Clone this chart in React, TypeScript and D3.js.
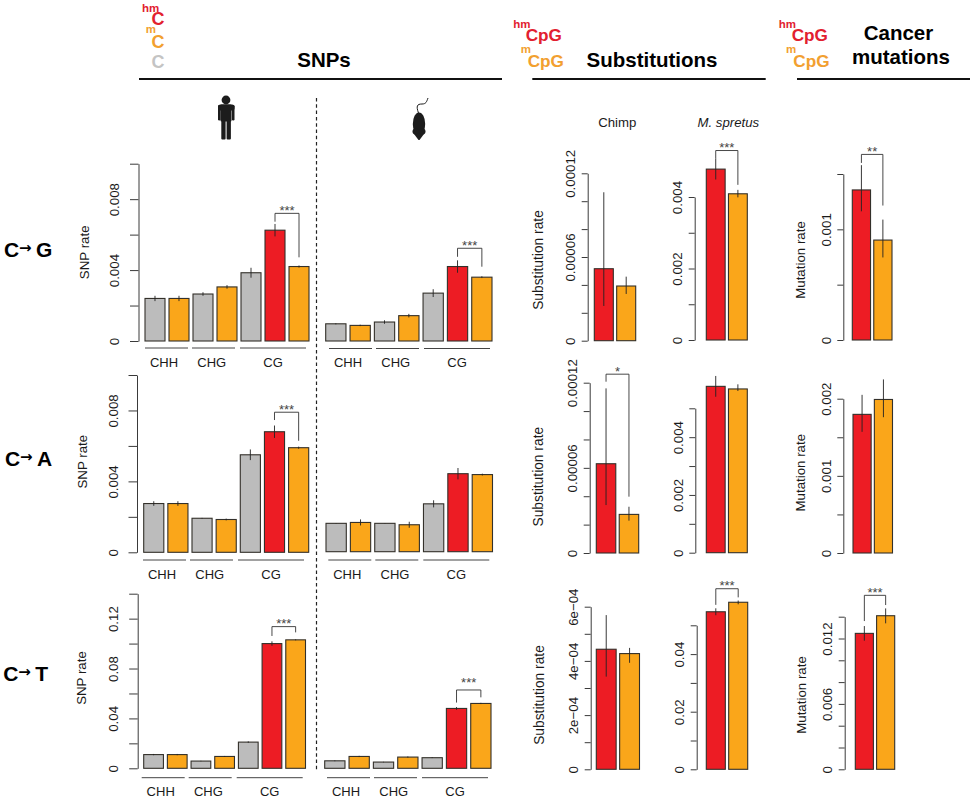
import React, { useEffect, useRef } from "react";
import * as d3 from "d3";

const RED = "#ed1c24";
const ORANGE = "#faa61a";
const GREY = "#bcbcbc";
const DARK = "#3a3a3a";
const FONT = "'Liberation Sans', Arial, sans-serif";

const snpFill = [GREY, ORANGE, GREY, ORANGE, GREY, RED, ORANGE];
const pairFill = [RED, ORANGE];
const groupNames = ["CHH", "CHG", "CG"];

// SNP rates, order: CHH C, CHH mC, CHG C, CHG mC, CG C, CG hmC, CG mC
const humanCG = [0.0024, 0.0024, 0.00265, 0.00305, 0.00385, 0.00625, 0.0042];
const humanCGerr = [0.00015, 0.00015, 0.0001, 0.0001, 0.00028, 0.00035, 0.00006];
const mouseCG = [0.00097, 0.00088, 0.00107, 0.00143, 0.0027, 0.0042, 0.0036];
const mouseCGerr = [0.00003, 0.00004, 0.0001, 0.0001, 0.00022, 0.00035, 0.00005];
const humanCA = [0.00275, 0.00275, 0.00192, 0.00185, 0.0055, 0.0068, 0.0059];
const humanCAerr = [0.00013, 0.00013, 0.00002, 0.00005, 0.0003, 0.00035, 0.00006];
const mouseCA = [0.0016, 0.00165, 0.0016, 0.00152, 0.0027, 0.0044, 0.00435];
const mouseCAerr = [0.00001, 0.00017, 0.00001, 0.00017, 0.0002, 0.00032, 0.00005];
const humanCT = [0.011, 0.011, 0.0058, 0.0095, 0.021, 0.1, 0.103];
const humanCTerr = [0.0005, 0.0005, 0.0002, 0.0004, 0.0006, 0.0018, 0.0004];
const mouseCT = [0.006, 0.0095, 0.005, 0.009, 0.0085, 0.048, 0.052];
const mouseCTerr = [0.0003, 0.0005, 0.0002, 0.0005, 0.0003, 0.0011, 0.0005];

// hmCpG, mCpG with lower and upper error bar ends
const chimpCG = [0.0000516, 0.0000392];
const chimpCGlo = [0.0000249, 0.0000335];
const chimpCGhi = [0.0001064, 0.0000459];
const spretusCG = [0.00478, 0.00409];
const spretusCGlo = [0.00449, 0.00399];
const spretusCGhi = [0.00508, 0.0042];
const cancerCG = [0.001356, 0.000903];
const cancerCGlo = [0.001163, 0.000746];
const cancerCGhi = [0.00158, 0.001088];
const chimpCA = [0.0000629, 0.0000272];
const chimpCAlo = [0.0000338, 0.0000228];
const chimpCAhi = [0.000116, 0.0000326];
const spretusCA = [0.00576, 0.00567];
const spretusCAlo = [0.0054, 0.0056];
const spretusCAhi = [0.00612, 0.00583];
const cancerCA = [0.001797, 0.00199];
const cancerCAlo = [0.00157, 0.00176];
const cancerCAhi = [0.00205, 0.00225];
const chimpCT = [0.000443, 0.000427];
const chimpCTlo = [0.000342, 0.000393];
const chimpCThi = [0.000569, 0.000448];
const spretusCT = [0.0547, 0.058];
const spretusCTlo = [0.0535, 0.0573];
const spretusCThi = [0.0559, 0.0586];
const cancerCT = [0.01247, 0.01409];
const cancerCTlo = [0.0118, 0.01339];
const cancerCThi = [0.01314, 0.01476];

// tick values and labels
const snpLowTicks = [0, 0.002, 0.004, 0.006, 0.008, 0.01];
const snpLowLabels = ["0", "", "0.004", "", "0.008", ""];
const snpHighTicks = [0, 0.02, 0.04, 0.06, 0.08, 0.1, 0.12, 0.14];
const snpHighLabels = ["0", "", "0.04", "", "0.08", "", "0.12", ""];
const chimpTicks = [0, 0.00002, 0.00004, 0.00006, 0.00008, 0.0001, 0.00012];
const chimpLabels = ["0", "", "", "0.00006", "", "", "0.00012"];
const chimpCtTicks = [0, 0.0001, 0.0002, 0.0003, 0.0004, 0.0005, 0.0006];
const chimpCtLabels = ["0", "", "2e\u221204", "", "4e\u221204", "", "6e\u221204"];
const spretusTicks4 = [0, 0.001, 0.002, 0.003, 0.004];
const spretusLabels4 = ["0", "", "0.002", "", "0.004"];
const spretusTicks5 = [0, 0.001, 0.002, 0.003, 0.004, 0.005];
const spretusLabels5 = ["0", "", "0.002", "", "0.004", ""];
const spretusCtTicks = [0, 0.01, 0.02, 0.03, 0.04, 0.05];
const spretusCtLabels = ["0", "", "0.02", "", "0.04", ""];
const cancerTicks1 = [0, 0.0005, 0.001, 0.0015];
const cancerLabels1 = ["0", "", "0.001", ""];
const cancerTicks2 = [0, 0.0005, 0.001, 0.0015, 0.002];
const cancerLabels2 = ["0", "", "0.001", "", "0.002"];
const cancerCtTicks = [0, 0.002, 0.004, 0.006, 0.008, 0.01, 0.012, 0.014];
const cancerCtLabels = ["0", "", "", "0.006", "", "", "0.012", ""];

type Bracket = { top: number; left: number; right: number; stars: string; gap?: number };
type Panel = {
  values: number[];
  lo: number[];
  hi: number[];
  fill: string[];
  x0: number;
  x1: number;
  pad: number;
  y0: number;
  yMax: number;
  max: number;
  axis?: {
    x: number;
    ticks: number[];
    labels: string[];
    tickLen: number;
    labelGap: number;
    title: string;
    titleX: number;
    titleY: number;
    titleSize: number;
  };
  bracket?: Bracket;
  groups?: { start: number; lineY: number; labelY: number };
};

const snp = (values: number[], err: number[]) => ({
  values,
  lo: values.map((v, i) => v - err[i]),
  hi: values.map((v, i) => v + err[i]),
  fill: snpFill,
  pad: 0.167,
});
const pair = (values: number[], lo: number[], hi: number[]) => ({
  values,
  lo,
  hi,
  fill: pairFill,
  pad: 0.15,
});

const snpAxis = (x: number, ticks: number[], labels: string[], titleX: number, titleY: number) => ({
  x,
  ticks,
  labels,
  tickLen: 8.5,
  labelGap: 19.5,
  title: "SNP rate",
  titleX,
  titleY,
  titleSize: 13.3,
});
const subAxis = (x: number, ticks: number[], labels: string[], titleX?: number, titleY?: number) => ({
  x,
  ticks,
  labels,
  tickLen: 6,
  labelGap: 12.5,
  title: titleX ? "Substitution rate" : "",
  titleX: titleX ?? 0,
  titleY: titleY ?? 0,
  titleSize: 13.8,
});
const mutAxis = (x: number, ticks: number[], labels: string[], titleX: number, titleY: number) => ({
  x,
  ticks,
  labels,
  tickLen: 6,
  labelGap: 12.5,
  title: "Mutation rate",
  titleX,
  titleY,
  titleSize: 13.3,
});

const panels: Panel[] = [
  {
    ...snp(humanCG, humanCGerr),
    x0: 145, x1: 309, y0: 341, yMax: 163.7, max: 0.01,
    axis: snpAxis(138.5, snpLowTicks, snpLowLabels, 84.3, 252.3),
    bracket: { top: 0.0072, left: 0.00673, right: 0.00472, stars: "***" },
    groups: { start: 145, lineY: 348, labelY: 366.5 },
  },
  {
    ...snp(mouseCG, mouseCGerr),
    x0: 325.7, x1: 492, y0: 341, yMax: 163.7, max: 0.01,
    bracket: { top: 0.00523, left: 0.00475, right: 0.00419, stars: "***" },
    groups: { start: 329, lineY: 348.5, labelY: 366.5 },
  },
  {
    ...snp(humanCA, humanCAerr),
    x0: 143.7, x1: 308.7, y0: 552.3, yMax: 375, max: 0.01,
    axis: snpAxis(137, snpLowTicks, snpLowLabels, 82.3, 461.7),
    bracket: { top: 0.0079, left: 0.00746, right: 0.00629, stars: "***" },
    groups: { start: 143, lineY: 560, labelY: 578.5 },
  },
  {
    ...snp(mouseCA, mouseCAerr),
    x0: 326, x1: 492.5, y0: 551.7, yMax: 374.4, max: 0.01,
    groups: { start: 328.3, lineY: 560, labelY: 578.5 },
  },
  {
    ...snp(humanCT, humanCTerr),
    x0: 143.7, x1: 305.5, y0: 768.3, yMax: 593.7, max: 0.14,
    axis: snpAxis(137.7, snpHighTicks, snpHighLabels, 81, 678),
    bracket: { top: 0.1136, left: 0.1061, right: 0.109, stars: "***" },
    groups: { start: 141.7, lineY: 777.7, labelY: 796 },
  },
  {
    ...snp(mouseCT, mouseCTerr),
    x0: 324.7, x1: 491, y0: 768.3, yMax: 593.7, max: 0.14,
    bracket: { top: 0.0628, left: 0.0527, right: 0.0569, stars: "***", gap: 10.7 },
    groups: { start: 327, lineY: 777.7, labelY: 796 },
  },
  {
    ...pair(chimpCG, chimpCGlo, chimpCGhi),
    x0: 594.3, x1: 635.7, y0: 340.7, yMax: 173.3, max: 0.00012,
    axis: subAxis(587.7, chimpTicks, chimpLabels, 538, 260),
  },
  {
    ...pair(spretusCG, spretusCGlo, spretusCGhi),
    x0: 706.3, x1: 747.3, y0: 340, yMax: 197, max: 0.004,
    axis: subAxis(694.7, spretusTicks4, spretusLabels4),
    bracket: { top: 0.0053, left: 0.00508, right: 0.00434, stars: "***" },
  },
  {
    ...pair(cancerCG, cancerCGlo, cancerCGhi),
    x0: 852.3, x1: 892, y0: 340, yMax: 174, max: 0.0015,
    axis: mutAxis(843.3, cancerTicks1, cancerLabels1, 800, 260),
    bracket: { top: 0.001677, left: 0.0016, right: 0.001215, stars: "**" },
  },
  {
    ...pair(chimpCA, chimpCAlo, chimpCAhi),
    x0: 596.3, x1: 638.7, y0: 553, yMax: 382.7, max: 0.00012,
    axis: subAxis(589.7, chimpTicks, chimpLabels, 538, 476.7),
    bracket: { top: 0.000126, left: 0.0001207, right: 0.0000397, stars: "*" },
  },
  {
    ...pair(spretusCA, spretusCAlo, spretusCAhi),
    x0: 706.3, x1: 747.3, y0: 552.7, yMax: 408.3, max: 0.005,
    axis: subAxis(695.3, spretusTicks5, spretusLabels5),
  },
  {
    ...pair(cancerCA, cancerCAlo, cancerCAhi),
    x0: 853, x1: 892.5, y0: 553, yMax: 398.7, max: 0.002,
    axis: mutAxis(843.3, cancerTicks2, cancerLabels2, 800.7, 472.7),
  },
  {
    ...pair(chimpCT, chimpCTlo, chimpCThi),
    x0: 596.3, x1: 639.5, y0: 769.3, yMax: 606.7, max: 0.0006,
    axis: subAxis(590.7, chimpCtTicks, chimpCtLabels, 539, 695),
  },
  {
    ...pair(spretusCT, spretusCTlo, spretusCThi),
    x0: 706.3, x1: 747.7, y0: 769.3, yMax: 625.3, max: 0.05,
    axis: subAxis(696.7, spretusCtTicks, spretusCtLabels),
    bracket: { top: 0.0627, left: 0.0571, right: 0.0597, stars: "***" },
  },
  {
    ...pair(cancerCT, cancerCTlo, cancerCThi),
    x0: 855.3, x1: 894.7, y0: 769.3, yMax: 616.7, max: 0.014,
    axis: mutAxis(844.7, cancerCtTicks, cancerCtLabels, 801, 695),
    bracket: { top: 0.01596, left: 0.0136, right: 0.01507, stars: "***" },
  },
];

const groupSpans = [[0, 43], [47, 90], [95, 161]];
const groupCenters = [19, 66.7, 128];

type Sel = d3.Selection<SVGSVGElement, unknown, null, undefined>;

const drawPanel = (svg: Sel, p: Panel) => {
  const g = svg.append("g");
  const x = d3
    .scaleBand<number>()
    .domain(d3.range(p.values.length))
    .range([p.x0, p.x1])
    .paddingInner(p.pad);
  const y = d3.scaleLinear().domain([0, p.max]).range([p.y0, p.yMax]);
  const mid = (i: number) => x(i)! + x.bandwidth() / 2;

  g.selectAll("rect.bar")
    .data(p.values)
    .join("rect")
    .attr("class", "bar")
    .attr("x", (_, i) => x(i)!)
    .attr("y", (d) => y(d))
    .attr("width", x.bandwidth())
    .attr("height", (d) => p.y0 - y(d))
    .attr("fill", (_, i) => p.fill[i])
    .attr("stroke", "#33302a")
    .attr("stroke-width", 1.1);

  g.selectAll("line.err")
    .data(p.values)
    .join("line")
    .attr("class", "err")
    .attr("x1", (_, i) => mid(i))
    .attr("x2", (_, i) => mid(i))
    .attr("y1", (_, i) => y(p.lo[i]))
    .attr("y2", (_, i) => y(p.hi[i]))
    .attr("stroke", "#222")
    .attr("stroke-width", 0.9);

  if (p.axis) {
    const a = p.axis;
    const axis = d3
      .axisLeft(y)
      .tickValues(a.ticks)
      .tickSizeInner(a.tickLen)
      .tickSizeOuter(0)
      .tickPadding(0)
      .tickFormat((_, i) => a.labels[i]);
    const ag = g.append("g").attr("transform", `translate(${a.x},0)`).call(axis);
    ag.selectAll("path,line").attr("stroke", DARK).attr("stroke-width", 1);
    ag.selectAll<SVGTextElement, number>("text")
      .attr("x", null)
      .attr("dy", null)
      .attr("transform", `translate(${-a.labelGap},0) rotate(-90)`)
      .attr("text-anchor", "middle")
      .attr("fill", "#1a1a1a")
      .style("font", `13.3px ${FONT}`);
    if (a.title) {
      g.append("text")
        .attr("transform", `translate(${a.titleX},${a.titleY}) rotate(-90)`)
        .attr("text-anchor", "middle")
        .attr("dy", "0.35em")
        .attr("fill", "#1a1a1a")
        .style("font", `${a.titleSize}px ${FONT}`)
        .text(a.title);
    }
  }

  if (p.bracket) {
    const b = p.bracket;
    const n = p.values.length;
    const xl = mid(n - 2);
    const xr = mid(n - 1);
    const path = d3.path();
    path.moveTo(xl, y(b.left));
    path.lineTo(xl, y(b.top));
    path.lineTo(xr, y(b.top));
    path.lineTo(xr, y(b.right));
    g.append("path")
      .attr("d", path.toString())
      .attr("fill", "none")
      .attr("stroke", "#333")
      .attr("stroke-width", 0.9);
    g.append("text")
      .attr("x", (xl + xr) / 2)
      .attr("y", y(b.top) + 1.5 - (b.gap ? b.gap - 6 : 0))
      .attr("text-anchor", "middle")
      .attr("fill", "#444")
      .style("font", `13px ${FONT}`)
      .text(b.stars);
  }

  if (p.groups) {
    const gr = p.groups;
    groupNames.forEach((name, i) => {
      g.append("line")
        .attr("x1", gr.start + groupSpans[i][0])
        .attr("x2", gr.start + groupSpans[i][1])
        .attr("y1", gr.lineY)
        .attr("y2", gr.lineY)
        .attr("stroke", "#444")
        .attr("stroke-width", 1);
      g.append("text")
        .attr("x", gr.start + groupCenters[i])
        .attr("y", gr.labelY)
        .attr("text-anchor", "middle")
        .attr("fill", "#1a1a1a")
        .style("font", `13px ${FONT}`)
        .text(name);
    });
  }
};

const label = (
  svg: Sel,
  x: number,
  y: number,
  text: string,
  size: number,
  color = "#000",
  weight = "bold",
  anchor = "start",
  style = "normal",
) =>
  svg
    .append("text")
    .attr("x", x)
    .attr("y", y)
    .attr("fill", color)
    .attr("text-anchor", anchor)
    .style("font", `${style} ${weight} ${size}px ${FONT}`)
    .text(text);

const drawPerson = (svg: Sel) => {
  const g = svg.append("g").attr("fill", "#1c1c1c");
  g.append("circle").attr("cx", 226).attr("cy", 100).attr("r", 4.4);
  g.append("rect").attr("x", 220.5).attr("y", 104.5).attr("width", 11).attr("height", 17).attr("rx", 1);
  g.append("rect").attr("x", 218).attr("y", 104.5).attr("width", 16.5).attr("height", 6).attr("rx", 2.5);
  g.append("rect").attr("x", 218).attr("y", 105).attr("width", 2.6).attr("height", 15.5).attr("rx", 1.2);
  g.append("rect").attr("x", 231.9).attr("y", 105).attr("width", 2.6).attr("height", 15.5).attr("rx", 1.2);
  g.append("rect").attr("x", 221.3).attr("y", 120).attr("width", 4.3).attr("height", 19.5).attr("rx", 1);
  g.append("rect").attr("x", 226.6).attr("y", 120).attr("width", 4.3).attr("height", 19.5).attr("rx", 1);
};

const drawMouse = (svg: Sel) => {
  const g = svg.append("g").attr("fill", "#1c1c1c");
  g.append("ellipse").attr("cx", 419).attr("cy", 124).attr("rx", 6.2).attr("ry", 11.5);
  g.append("path").attr("d", "M414,134 L424,134 L419.5,140 L418.5,140 Z");
  g.append("circle").attr("cx", 415.5).attr("cy", 131.5).attr("r", 3);
  g.append("circle").attr("cx", 422.5).attr("cy", 131.5).attr("r", 3);
  g.append("path")
    .attr("d", "M418.5,113 C416,106 417,104 422,104 C426,104 426.5,102 428,98")
    .attr("fill", "none")
    .attr("stroke", "#1c1c1c")
    .attr("stroke-width", 1);
};

const drawHeader = (svg: Sel) => {
  const rules = [[139, 502], [532.3, 765.7], [797, 970]];
  rules.forEach(([a, b]) => {
    svg.append("line")
      .attr("x1", a).attr("x2", b).attr("y1", 79).attr("y2", 79)
      .attr("stroke", "#111").attr("stroke-width", 2);
  });

  label(svg, 324, 66.5, "SNPs", 20.5, "#000", "bold", "middle");
  label(svg, 652, 66.5, "Substitutions", 20.5, "#000", "bold", "middle");
  label(svg, 898.5, 40, "Cancer", 20.5, "#000", "bold", "middle");
  label(svg, 901, 64, "mutations", 20.5, "#000", "bold", "middle");

  const red = "#e2202f";
  const orange = "#f2a030";
  label(svg, 142, 11.7, "hm", 11.5, red);
  label(svg, 151.5, 25, "C", 18, red);
  label(svg, 145.7, 33.3, "m", 11.5, orange);
  label(svg, 151.5, 47.7, "C", 18, orange);
  label(svg, 151.5, 67.7, "C", 18, "#c4c4c4");

  [[513.3, 525.7, 520.7, 527.7], [778.7, 791.7, 786, 793.3]].forEach(([hm, c1, m, c2]) => {
    label(svg, hm, 28.3, "hm", 11.5, red);
    label(svg, c1, 41, "CpG", 17.2, red);
    label(svg, m, 53.3, "m", 11.5, orange);
    label(svg, c2, 66.7, "CpG", 17.2, orange);
  });

  label(svg, 617.3, 127.3, "Chimp", 13.2, "#1a1a1a", "normal", "middle");
  label(svg, 728.3, 127.3, "M. spretus", 13.2, "#1a1a1a", "normal", "middle", "italic");
};

const drawRowNames = (svg: Sel) => {
  [
    { base: "C", to: "G", x: 4, y: 256.7 },
    { base: "C", to: "A", x: 5, y: 466 },
    { base: "C", to: "T", x: 3.3, y: 681 },
  ].forEach((r) => {
    label(svg, r.x, r.y, r.base, 21);
    label(svg, r.x + 15, r.y - 4, "\u2192", 15, "#000", "bold", "start").style("font-family", "'DejaVu Sans'");
    label(svg, r.x + 32, r.y, r.to, 21);
  });
};

export default function App() {
  const ref = useRef<SVGSVGElement>(null);

  useEffect(() => {
    const svg = d3.select(ref.current!) as unknown as Sel;
    svg.selectAll("*").remove();

    drawHeader(svg);
    drawPerson(svg);
    drawMouse(svg);
    drawRowNames(svg);

    svg.append("line")
      .attr("x1", 316.5).attr("x2", 316.5).attr("y1", 98).attr("y2", 770)
      .attr("stroke", "#222").attr("stroke-width", 1.2).attr("stroke-dasharray", "3.5 2.8");

    panels.forEach((p) => drawPanel(svg, p));
  }, []);

  return (
    <svg
      ref={ref}
      width={974}
      height={800}
      viewBox="0 0 974 800"
      style={{ position: "absolute", left: 0, top: 0, background: "#fff" }}
    />
  );
}
